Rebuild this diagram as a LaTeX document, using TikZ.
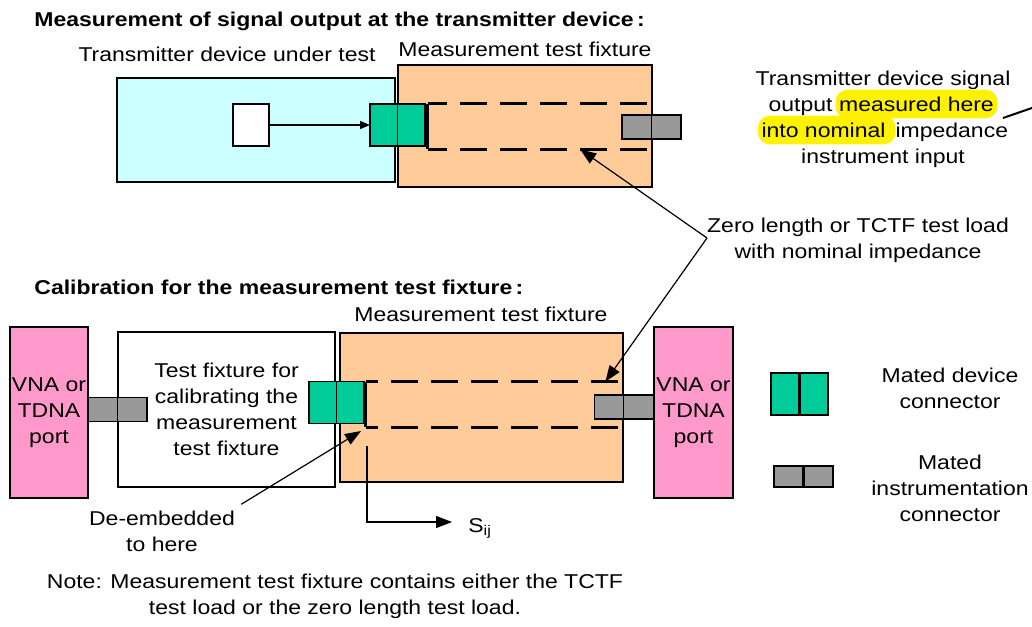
\documentclass[tikz,border=0pt]{standalone}
\usepackage{fontspec}
\setmainfont{Liberation Sans}[FakeStretch=1.15]
\usetikzlibrary{arrows.meta,positioning,calc}

\definecolor{dutcyan}{HTML}{CCFFFF}
\definecolor{fixorange}{HTML}{FFCC99}
\definecolor{devgreen}{HTML}{00CC99}
\definecolor{insgray}{HTML}{999999}
\definecolor{vnapink}{HTML}{FF99CC}

\newcommand{\hlite}[1]{\smash{\tikz[baseline=(hl.base)]\node[fill=yellow,rounded corners=6pt,inner xsep=1.8pt,inner ysep=3.5pt,outer sep=0pt](hl){#1};}}

\begin{document}
\begin{tikzpicture}[x=0.5pt,y=-0.5pt,
    lbl/.style={font=\fontsize{10}{13}\selectfont, align=center, inner sep=0pt},
    head/.style={font=\fontsize{10}{13}\selectfont\bfseries, anchor=base west, inner sep=0pt},
    box/.style={draw, line width=0.7pt, inner sep=0pt, outer sep=0pt},
    devcon/.style={box, fill=devgreen, minimum width=13.75pt, minimum height=21pt},
    inscon/.style={box, fill=insgray, minimum width=14.75pt, minimum height=12pt},
    loadline/.style={line width=1.5pt, dash pattern=on 13.5pt off 6.5pt},
    callout/.style={line width=0.6pt, -{Triangle[length=8pt,width=6pt]}}]
    \useasboundingbox (0,0) rectangle (1032,626);

    % Measurement of the transmitter output
    \node[head] (head1) at (34,27) {Measurement of signal output at the transmitter device\,:};
    \node[box, fill=dutcyan, minimum width=139pt, minimum height=52pt] (dut) at (256,130) {};
    \node[box, fill=fixorange, minimum width=127pt, minimum height=61pt] (fixT) at (525,126) {};
    \node[lbl, anchor=base] (dutname) at (227,62) {Transmitter device under test};
    \node[lbl, anchor=base] (fixTname) at (525,57) {Measurement test fixture};
    \node[box, fill=white, minimum width=18pt, minimum height=21pt] (src) at (251,125) {};
    \node[devcon] (dcA) at (383.75,125) {};
    \node[devcon, right=0pt of dcA] (dcB) {};
    \draw[line width=0.6pt, -{Triangle[length=5pt,width=4pt]}] (src) -- (dcA);

    % test load, top
    \node[minimum width=110pt, minimum height=22.5pt, inner sep=0pt] (loadT) at (538,126.5) {};
    \draw[loadline, dash phase=4pt] (loadT.north west) -- (loadT.north east);
    \draw[loadline, dash phase=4pt] (loadT.south west) -- (loadT.south east);
    \draw[line width=1.5pt] (loadT.north west) -- (loadT.south west);
    \node[inscon] (icA) at (636.75,127) {};
    \node[inscon, right=0pt of icA] (icB) {};

    % Calibration of the fixture
    \node[head] (head2) at (34,294) {Calibration for the measurement test fixture\,:};
    \node[box, fill=vnapink, lbl, minimum width=39pt, minimum height=85.5pt] (vnaL) at (49,412.5) {VNA or\\TDNA\\port};
    \node[box, lbl, fill=white, minimum width=108.5pt, minimum height=77.5pt] (calfix) at (226.5,409.5) {Test fixture for\\calibrating the\\measurement\\test fixture};
    \node[inscon] (icC) at (102.75,409.5) {};
    \node[inscon, right=0pt of icC] (icD) {};
    \node[box, fill=fixorange, minimum width=141.5pt, minimum height=74.5pt] (fixB) at (481.5,407.5) {};
    \node[lbl, anchor=base] (fixBname) at (481,321) {Measurement test fixture};
    \node[devcon] (dcC) at (322.75,402.5) {};
    \node[devcon, right=0pt of dcC] (dcD) {};

    % test load, bottom
    \node[minimum width=129.5pt, minimum height=22.5pt, inner sep=0pt] (loadB) at (495.5,404.5) {};
    \draw[loadline, dash phase=7.5pt] (loadB.north west) -- (loadB.north east);
    \draw[loadline, dash phase=7.5pt] (loadB.south west) -- (loadB.south east);
    \draw[line width=1.5pt] (loadB.north west) -- (loadB.south west);
    \node[inscon] (icE) at (609,407) {};
    \node[inscon, right=0pt of icE] (icF) {};
    \node[box, fill=vnapink, lbl, minimum width=39.5pt, minimum height=85.5pt] (vnaR) at (693.5,412.5) {VNA or\\TDNA\\port};

    % Legend
    \node[devcon, line width=1.2pt, minimum width=14.25pt] (lgA) at (785.25,394) {};
    \node[devcon, line width=1.2pt, minimum width=14.25pt, right=0pt of lgA] (lgB) {};
    \node[lbl] (lgAname) at (950,388) {Mated device\\connector};
    \node[inscon, line width=1.2pt, minimum height=10.5pt] (lgC) at (788.75,476.5) {};
    \node[inscon, line width=1.2pt, minimum height=10.5pt, right=0pt of lgC] (lgD) {};
    \node[lbl] (lgCname) at (950,488) {Mated\\instrumentation\\connector};

    % Callouts
    \node[lbl] (tsig) at (883,119) {Transmitter device signal\\output\hspace{1.5pt}\hlite{measured here}\\\hlite{into nominal\ }impedance\\instrument input};
    \coordinate (sigend) at (1003,118);
    \coordinate (offpage) at (1040,105.2);
    \draw[line width=1pt] (sigend) -- (offpage);

    \node[lbl] (zlabel) at (858,240) {Zero length or TCTF test load\\with nominal impedance};
    \coordinate (zsplit) at (707,238);
    \draw[callout] (zsplit) -- ($(loadT.south west)!0.691!(loadT.south east)$);
    \draw[callout] (zsplit) -- ($(loadB.north west)!0.923!(loadB.north east)$);

    \node[lbl] (deemb) at (162,531) {De-embedded\\to here};
    \draw[callout] ($(deemb.north east)+(6,-6)$) -- ($(dcD.south east)+(-3,7.5)$);

    % S parameters
    \coordinate (sstart) at (367,446);
    \node[lbl, anchor=base west, inner xsep=8pt] (sij) at (452,532) {S\textsubscript{ij}};
    \draw[callout] (sstart) |- ($(sij.base west)+(0,-10)$);

    \node[lbl] (note) at (335,596) {Note: Measurement test fixture contains either the TCTF\\test load or the zero length test load.};
\end{tikzpicture}
\end{document}
